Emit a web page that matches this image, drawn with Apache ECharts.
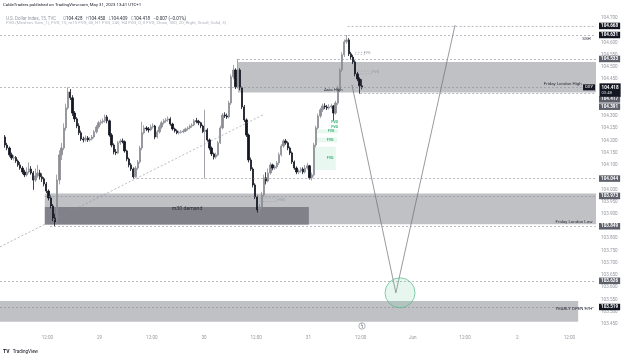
<!DOCTYPE html>
<html><head><meta charset="utf-8">
<script src="https://cdn.jsdelivr.net/npm/echarts@6/dist/echarts.min.js"></script>
<style>html,body{margin:0;padding:0;background:#fff}#c{width:625px;height:356px}</style>
</head><body><div id="c"></div>
<script>
// ---- DATA ----
// x unit: trading hours since Fri 26 May 00:00 (weekend skipped); 30-min candles
const candleStart = 2.25;
const candleStep = 0.5;
// [open, close, low, high]
const ohlc = [
[104.214,104.181,104.170,104.222],[104.181,104.169,104.160,104.190],[104.169,104.141,104.133,104.175],[104.141,104.128,104.120,104.150],
[104.128,104.130,104.118,104.140],[104.130,104.116,104.108,104.136],[104.116,104.100,104.092,104.122],[104.100,104.087,104.080,104.112],
[104.087,104.071,104.062,104.095],[104.071,104.059,104.050,104.080],[104.059,104.071,104.052,104.090],[104.071,104.083,104.065,104.110],
[104.083,104.067,104.060,104.095],[104.067,104.038,103.998,104.075],[104.038,104.055,104.030,104.085],[104.055,104.067,104.048,104.100],
[104.067,104.051,104.040,104.080],[104.051,104.043,104.030,104.065],[104.043,104.022,104.012,104.050],[104.022,103.993,103.985,104.030],
[103.993,103.965,103.955,104.000],[103.965,103.932,103.922,103.975],[103.932,103.883,103.870,103.940],[103.883,103.867,103.849,103.900],
[103.867,104.038,103.860,104.060],[104.038,104.141,104.020,104.160],[104.141,104.169,104.120,104.190],[104.169,104.251,104.160,104.270],
[104.251,104.333,104.240,104.350],[104.333,104.398,104.325,104.417],[104.398,104.374,104.365,104.410],[104.374,104.312,104.300,104.385],
[104.312,104.288,104.275,104.320],[104.288,104.259,104.250,104.295],[104.259,104.231,104.222,104.270],[104.231,104.206,104.198,104.240],
[104.206,104.202,104.192,104.215],[104.202,104.210,104.195,104.220],[104.210,104.202,104.194,104.218],[104.202,104.206,104.196,104.214],
[104.206,104.214,104.200,104.222],[104.214,104.235,104.208,104.243],[104.235,104.255,104.228,104.263],[104.255,104.272,104.248,104.280],
[104.272,104.276,104.262,104.285],[104.276,104.280,104.268,104.290],[104.280,104.296,104.272,104.306],[104.296,104.280,104.270,104.304],
[104.280,104.222,104.215,104.285],[104.222,104.181,104.172,104.230],[104.181,104.153,104.143,104.188],[104.153,104.149,104.140,104.165],
[104.149,104.190,104.145,104.198],[104.190,104.198,104.182,104.206],[104.198,104.195,104.188,104.208],[104.195,104.157,104.150,104.200],
[104.157,104.124,104.115,104.162],[104.124,104.100,104.090,104.130],[104.100,104.083,104.075,104.108],[104.083,104.051,104.044,104.090],
[104.051,104.087,104.048,104.095],[104.087,104.112,104.080,104.120],[104.112,104.169,104.105,104.178],[104.169,104.231,104.160,104.276],
[104.231,104.251,104.225,104.262],[104.251,104.247,104.238,104.258],[104.247,104.243,104.232,104.255],[104.243,104.255,104.238,104.265],
[104.255,104.259,104.248,104.270],[104.259,104.214,104.205,104.264],[104.214,104.235,104.208,104.243],[104.235,104.255,104.228,104.263],
[104.255,104.272,104.248,104.280],[104.272,104.280,104.265,104.288],[104.280,104.284,104.272,104.292],[104.284,104.288,104.276,104.298],
[104.288,104.267,104.260,104.295],[104.267,104.247,104.240,104.272],[104.247,104.239,104.232,104.252],[104.239,104.231,104.225,104.245],
[104.231,104.233,104.224,104.240],[104.233,104.235,104.228,104.242],[104.235,104.239,104.230,104.246],[104.239,104.247,104.234,104.252],
[104.247,104.251,104.240,104.258],[104.251,104.259,104.245,104.265],[104.259,104.263,104.252,104.270],[104.263,104.280,104.258,104.288],
[104.280,104.278,104.270,104.292],[104.278,104.272,104.262,104.284],[104.272,104.259,104.250,104.276],[104.259,104.236,104.230,104.264],
[104.236,104.243,104.044,104.325],[104.243,104.202,104.195,104.250],[104.202,104.169,104.160,104.208],[104.169,104.145,104.136,104.175],
[104.145,104.132,104.122,104.150],[104.132,104.141,104.125,104.150],[104.141,104.190,104.136,104.198],[104.190,104.251,104.185,104.260],
[104.251,104.304,104.245,104.312],[104.304,104.300,104.292,104.315],[104.300,104.296,104.288,104.310],[104.296,104.353,104.290,104.362],
[104.353,104.460,104.345,104.470],[104.460,104.488,104.450,104.509],[104.488,104.419,104.410,104.495],[104.419,104.488,104.412,104.533],
[104.488,104.415,104.405,104.495],[104.415,104.337,104.328,104.420],[104.337,104.284,104.275,104.345],[104.284,104.222,104.214,104.290],
[104.222,104.120,104.110,104.228],[104.120,104.083,104.075,104.130],[104.083,104.018,104.008,104.090],[104.018,103.969,103.960,104.025],
[103.969,103.916,103.905,103.975],[103.916,103.928,103.887,103.940],[103.928,103.977,103.920,103.990],[103.977,104.047,103.970,104.060],
[104.047,104.034,104.020,104.070],[104.034,104.067,104.028,104.085],[104.067,104.100,104.060,104.110],[104.100,104.087,104.078,104.105],
[104.087,104.092,104.080,104.100],[104.092,104.108,104.085,104.116],[104.108,104.141,104.100,104.150],[104.141,104.177,104.135,104.185],
[104.177,104.198,104.170,104.206],[104.198,104.190,104.182,104.206],[104.190,104.169,104.160,104.196],[104.169,104.149,104.140,104.175],
[104.149,104.112,104.104,104.155],[104.112,104.087,104.080,104.118],[104.087,104.071,104.062,104.094],[104.071,104.075,104.062,104.082],
[104.075,104.083,104.068,104.090],[104.083,104.071,104.062,104.090],[104.071,104.087,104.065,104.100],[104.087,104.096,104.080,104.108],
[104.096,104.047,104.040,104.100],[104.047,104.059,104.036,104.068],[104.059,104.181,104.052,104.190],[104.181,104.251,104.172,104.260],
[104.251,104.300,104.245,104.310],[104.300,104.325,104.292,104.333],[104.325,104.341,104.316,104.350],[104.341,104.337,104.328,104.352],
[104.337,104.333,104.324,104.345],[104.333,104.337,104.326,104.348],[104.337,104.341,104.330,104.350],[104.341,104.312,104.280,104.345],
[104.312,104.353,104.305,104.362],[104.353,104.415,104.345,104.423],[104.415,104.488,104.408,104.496],[104.488,104.550,104.480,104.560],
[104.550,104.603,104.541,104.612],[104.603,104.611,104.595,104.631],[104.611,104.554,104.545,104.618],[104.554,104.541,104.530,104.562],
[104.541,104.521,104.512,104.550],[104.521,104.472,104.462,104.528],[104.472,104.451,104.442,104.480],[104.451,104.423,104.391,104.458],
[104.423,104.418,104.409,104.450]
];

const xTickPos = [12,24,36,48,60,72,84,96,108,120,132];
const xTickLabels = ['12:00','29','12:00','30','12:00','31','12:00','Jun','12:00','2','12:00'];
const yTickValues = [104.70,104.60,104.55,104.50,104.45,104.30,104.25,104.20,104.15,104.10,104.00,103.95,103.90,103.80,103.75,103.70,103.65,103.60,103.55,103.50,103.45];

// horizontal levels: price, start x (hours), box kind (black / grey)
const levelPrice = [104.668,104.631,104.533,104.417,104.391,104.044,103.973,103.849,103.626,103.519];
const levelStart = [81.0,1.1,55.8,1.1,83.9,31.7,11.4,12.6,1.1,1.1];
const levelBox   = ['k','k','g','g','g','g','g','g','g','k'];
const levelLabelShift = [0,0,0,12,13,0,0,0,0,0];
const lastPrice = 104.418;
const lastCountdown = '03:48';

// zones: [x0, x1, priceTop, priceBottom]
const zoneLight = [[55.8,138.1,104.521,104.396],[11.4,138.1,103.983,103.857],[1.1,134.0,103.544,103.459]];
const zoneDark  = [[11.4,72.1,103.928,103.855]];
const fvgGreen  = [[73.0,78.3,104.174,104.079],[73.5,78.6,104.212,104.192],[73.5,78.8,104.245,104.229],[77.6,78.8,104.259,104.251],[77.6,78.8,104.280,104.268]];
const fvgGrey   = [[82.7,85.0,104.560,104.552],[82.7,86.5,104.484,104.472],[60.9,64.7,103.965,103.950]];

// projected path
const projection = [[82.0,104.427],[92.1,103.577],[105.7,104.672]];
const targetCircle = [93.05,103.577];

// text notes: [text, x, price, align, size]
const notes = [
  ['Friday London High',134.9,104.431,'right',4.4],
  ['Friday London Low',137.4,103.867,'right',4.4],
  ['YEARLY OPEN H/H',137.4,103.512,'right',4.4],
  ['SSH',137.0,104.615,'right',4.4],
  ['m30 demand',44.1,103.922,'center',5.2],
  ['Asia High',80.0,104.405,'right',4.4]
];
const fvgGreenText = [[77.0,104.128],[77.0,104.202],[77.2,104.237],[78.0,104.256],[78.0,104.273]];
const fvgGreyText = [[85.5,104.556],[87.5,104.478],[65.8,103.955]];

// ---- CHART ----
const chart = echarts.init(document.getElementById('c'), null, {renderer:'canvas'});
const FONT = 'Roboto, "Noto Sans", sans-serif';
const candleData = ohlc.map((r,i)=>[candleStart+i*candleStep, r[0], r[1], r[2], r[3]]);

const dash = {type:[2,2], color:'#8a8d96', width:0.6};
const levelLines = levelPrice.map((p,i)=>{
  const black = levelBox[i]==='k';
  return [{coord:[levelStart[i],p], label:{show:true, position:'end', formatter:p.toFixed(3), color:'#fff',
      backgroundColor: black?'#131722':'#5d606b', fontSize:4.6, fontWeight:'bold', padding:[1,2,0.5,2], distance:3,
      offset:[0,levelLabelShift[i]], fontFamily:FONT}},
    {coord:[138.1,p]}];
});

const areaItem = (z, color, border) => [{coord:[z[0],z[2]], itemStyle:{color, borderColor:border||'transparent', borderWidth:border?0.6:0, borderType:[1.5,1.5]}},{coord:[z[1],z[3]]}];

const noteItems = notes.map(n=>({coord:[n[1],n[2]], value:n[0], symbol:'rect', symbolSize:1, itemStyle:{color:'rgba(0,0,0,0)'},
  label:{show:true, position: n[3]==='right'?'left':'inside', distance:0, formatter:n[0], color:'#2a2e39', fontSize:n[4], fontFamily:FONT}}));
const fvgGItems = fvgGreenText.map(t=>({coord:t, symbol:'rect', symbolSize:1, itemStyle:{color:'rgba(0,0,0,0)'},
  label:{show:true, position:'inside', formatter:'FVG', color:'#3fb57a', fontSize:3.6, fontWeight:'bold', fontFamily:FONT}}));
const fvgYItems = fvgGreyText.map(t=>({coord:t, symbol:'rect', symbolSize:1, itemStyle:{color:'rgba(0,0,0,0)'},
  label:{show:true, position:'inside', formatter:'FVG', color:'#9598a1', fontSize:3.6, fontFamily:FONT}}));

const option = {
  animation:false,
  backgroundColor:'#ffffff',
  grid:{left:0, right:29, top:12, bottom:26},
  xAxis:{type:'value', min:1.1, max:138.1, axisLine:{show:false}, axisTick:{show:false}, splitLine:{show:false},
    axisLabel:{customValues:xTickPos, formatter:(v)=>{const k=xTickPos.indexOf(v); return k>=0?xTickLabels[k]:'';},
      color:'#9598a1', fontSize:4.6, margin:5, fontFamily:FONT}},
  yAxis:{type:'value', position:'right', min:103.425, max:104.725, scale:true, axisLine:{show:false}, axisTick:{show:false}, splitLine:{show:false},
    axisLabel:{customValues:yTickValues, formatter:(v)=>v.toFixed(3), color:'#9598a1', fontSize:4.6, margin:5, fontFamily:FONT}},
  series:[
    {type:'line', data:[], z:1, silent:true,
      markArea:{silent:true, data:[
        ...zoneLight.map(z=>areaItem(z,'rgba(150,152,158,0.6)')),
        ...zoneDark.map(z=>areaItem(z,'rgba(95,97,104,0.65)')),
        ...fvgGreen.map(z=>areaItem(z,'rgba(80,200,140,0.13)')),
        ...fvgGrey.map(z=>areaItem(z,'rgba(255,255,255,0)','#a0a3ab'))
      ]},
      markLine:{silent:true, symbol:['none','none'], lineStyle:dash, data:[
        ...levelLines,
        [{coord:[1.1,103.765], label:{show:false}},{coord:[61.5,104.304]}]
      ]}
    },
    {type:'candlestick', z:3, data:candleData, encode:{x:0, y:[1,2,3,4]}, barWidth:1.8,
      itemStyle:{color:'#8c8e94', color0:'#131722', borderColor:'#8c8e94', borderColor0:'#131722', borderWidth:0.8}},
    {type:'line', z:4, data:projection, symbol:'none', lineStyle:{color:'#6b6e77', width:0.7}, silent:true,
      markPoint:{silent:true, data:[
        {coord:targetCircle, symbol:'circle', symbolSize:30, itemStyle:{color:'rgba(120,210,170,0.18)', borderColor:'#56b98a', borderWidth:0.7}, label:{show:false}},
        {coord:[136.5, 104.417], symbol:'rect', symbolSize:[12,6], itemStyle:{color:'#131722'},
          label:{show:true, position:'inside', formatter:'DXY', color:'#fff', fontSize:4.2, fontFamily:FONT}},
        {coord:[138.1,lastPrice], symbol:'rect', symbolSize:1, itemStyle:{color:'rgba(0,0,0,0)'},
          label:{show:true, position:'right', distance:3, formatter:'{a|'+lastPrice.toFixed(3)+'}\n{b|'+lastCountdown+'}', backgroundColor:'#131722',
            padding:[1,2,0.5,2], offset:[0,3], rich:{a:{color:'#fff',fontSize:4.6,fontWeight:'bold',fontFamily:FONT,lineHeight:6},b:{color:'#d1d4dc',fontSize:4.2,fontFamily:FONT,lineHeight:6}}}},
        ...noteItems, ...fvgGItems, ...fvgYItems
      ]}
    }
  ],
  graphic:[
    {type:'text', left:3, top:3, style:{text:'CableTraders published on TradingView.com, May 31, 2023 13:41 UTC+1', fill:'#131722', font:'4.3px '+FONT}},
    {type:'text', left:6, top:13, style:{text:'{g|U.S. Dollar Index, 15, TVC}  {g|O}{d|104.428} {g|H}{d|104.450} {g|L}{d|104.409} {g|C}{d|104.418} {d|−0.007 (−0.01%)}',
      rich:{g:{fill:'#9598a1', font:'4.5px '+FONT}, d:{fill:'#2a2e39', font:'4.5px '+FONT}}}},
    {type:'text', left:6, top:21, style:{text:'FVG (Meshrev Sam_1), FVG, 15, m15 FVG, 60, H1 FVG, 240, H4 FVG, 0, 0 FVG, Close, 300, 20, Right, Small, Solid, 3)', fill:'#b2b5be', font:'4.4px '+FONT}},
    {type:'circle', shape:{cx:362, cy:326, r:3.2}, style:{fill:'#fff', stroke:'#787b86', lineWidth:0.6}},
    {type:'text', x:362, y:326, style:{text:'ϟ', fill:'#787b86', font:'5px '+FONT, align:'center', verticalAlign:'middle'}},
    {type:'text', left:3, top:346, style:{text:'{l|TV} {t|TradingView}', rich:{l:{fill:'#131722', font:'bold 5px '+FONT}, t:{fill:'#131722', font:'4.6px '+FONT}}}}
  ]
};
chart.setOption(option);
</script></body></html>
